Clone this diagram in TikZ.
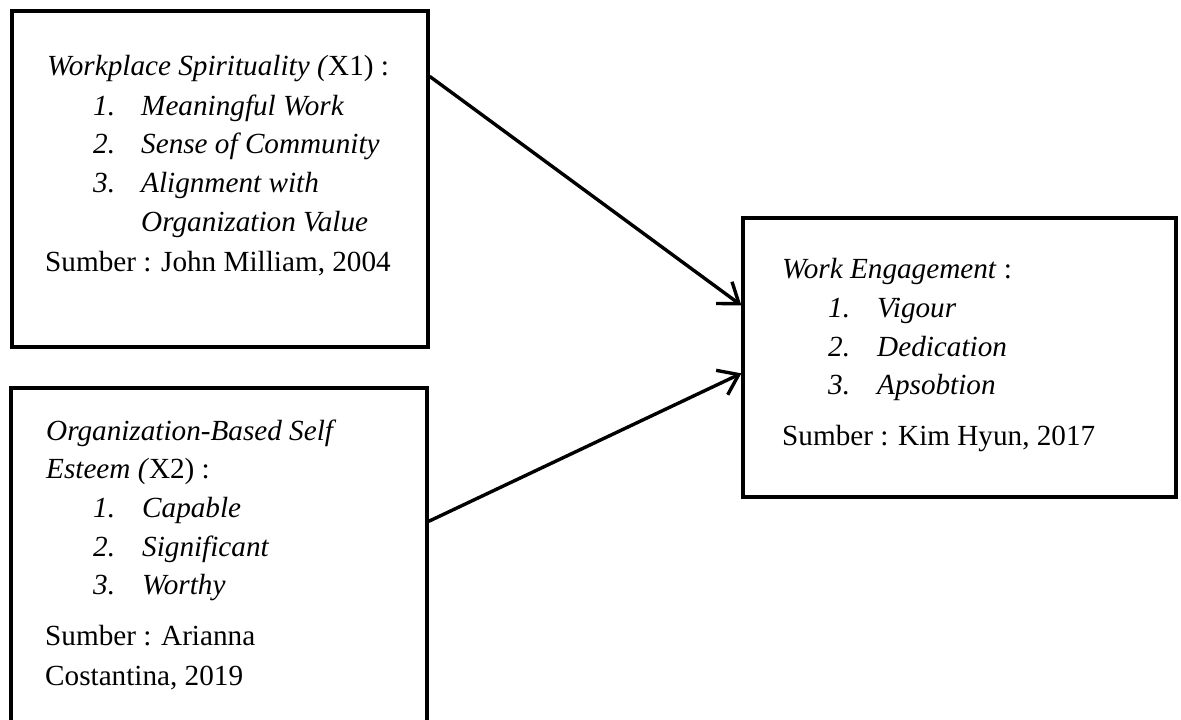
\documentclass[tikz,border=0pt]{standalone}
\usepackage{fontspec}
\setmainfont{Liberation Serif}
\usetikzlibrary{arrows.meta,calc}
\begin{document}
\begin{tikzpicture}[x=1pt,y=-1pt,
  box/.style={draw=black,line width=3.3pt,rectangle,inner sep=0pt},
  txt/.style={anchor=base west,inner sep=0pt,font=\fontsize{29.2}{35}\selectfont},
  link/.style={line width=3.4pt,-{Straight Barb[angle=72:23pt]}}]
\useasboundingbox (0,0) rectangle (1181,720);

% boxes
\node[box,minimum width=416pt,minimum height=336pt] (b1) at (220,179) {};
\node[box,minimum width=416pt,minimum height=380pt] (b2) at (219,578) {};
\node[box,minimum width=433pt,minimum height=279pt] (b3) at (959.5,357.5) {};

% first variable
\node[txt] (t1a) at (47,75) {\textit{Workplace Spirituality (}X1) :};
\node[txt] (t1b) at (93,115) {\textit{1.}};
\node[txt] (t1c) at (141,115) {\textit{Meaningful Work}};
\node[txt] (t1d) at (93,153) {\textit{2.}};
\node[txt] (t1e) at (141,153) {\textit{Sense of Community}};
\node[txt] (t1f) at (93,192) {\textit{3.}};
\node[txt] (t1g) at (141,192) {\textit{Alignment with}};
\node[txt] (t1h) at (141,231) {\textit{Organization Value}};
\node[txt] (t1i) at (45,271) {Sumber : John Milliam, 2004};

% second variable
\node[txt] (t2a) at (46,440) {\textit{Organization-Based Self}};
\node[txt] (t2b) at (46,478) {\textit{Esteem (}X2) :};
\node[txt] (t2c) at (93,517) {\textit{1.}};
\node[txt] (t2d) at (142,517) {\textit{Capable}};
\node[txt] (t2e) at (93,556) {\textit{2.}};
\node[txt] (t2f) at (142,556) {\textit{Significant}};
\node[txt] (t2g) at (93,594) {\textit{3.}};
\node[txt] (t2h) at (142,594) {\textit{Worthy}};
\node[txt] (t2i) at (45,645) {Sumber : Arianna};
\node[txt] (t2j) at (45,685) {Costantina, 2019};

% dependent variable
\node[txt] (t3a) at (782,278) {\textit{Work Engagement} :};
\node[txt] (t3b) at (828,317) {\textit{1.}};
\node[txt] (t3c) at (877,317) {\textit{Vigour}};
\node[txt] (t3d) at (828,356) {\textit{2.}};
\node[txt] (t3e) at (877,356) {\textit{Dedication}};
\node[txt] (t3f) at (828,394) {\textit{3.}};
\node[txt] (t3g) at (877,394) {\textit{Apsobtion}};
\node[txt] (t3h) at (782,445) {Sumber : Kim Hyun, 2017};

% arrows
\draw[link] ($(b1.north east)+(0,67)$) -- ($(b3.north west)+(0,89)$);
\draw[link] ($(b2.north east)+(0,135)$) -- ($(b3.north west)+(0,157)$);
\end{tikzpicture}
\end{document}
